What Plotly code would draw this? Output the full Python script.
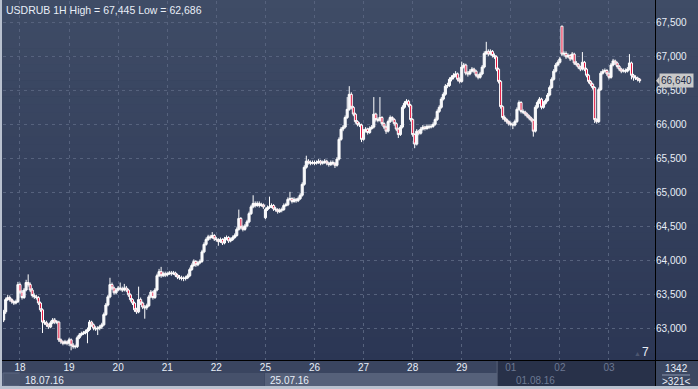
import plotly.graph_objects as go

# ---------------- data (USDRUB, 1H bars, 15.07.16 16:00 .. 03.08.16 15:00) ----------------
day_labels = ["18", "19", "20", "21", "22", "25", "26", "27", "28", "29", "01", "02", "03"]
week_labels = ["18.07.16", "25.07.16", "01.08.16"]
day_first_bar = [8, 32, 56, 80, 104, 128, 152, 176, 200, 224, 248, 272, 296]
week_first_bar = [8, 128, 248]

opens = [
    63.13, 63.25, 63.43, 63.46, 63.43, 63.40, 63.38, 63.40,
    63.65, 63.54, 63.46, 63.57, 63.68, 63.65, 63.57, 63.49, 63.47, 63.46, 63.38, 63.28, 63.10, 63.09, 63.06, 63.03, 63.09, 63.13, 63.10, 63.10, 62.84, 62.81, 62.79, 62.81,
    62.79, 62.84, 62.76, 62.74, 62.74, 62.87, 62.91, 62.93, 62.94, 62.96, 62.99, 63.10, 63.06, 63.01, 63.00, 63.01, 63.03, 63.06, 63.21, 63.35, 63.47, 63.65, 63.60, 63.53,
    63.57, 63.60, 63.59, 63.57, 63.60, 63.57, 63.50, 63.43, 63.38, 63.28, 63.25, 63.43, 63.38, 63.32, 63.31, 63.34, 63.47, 63.54, 63.46, 63.57, 63.78, 63.84, 63.78, 63.81,
    63.79, 63.81, 63.82, 63.81, 63.82, 63.79, 63.76, 63.75, 63.74, 63.74, 63.75, 63.78, 63.87, 63.93, 63.99, 63.94, 63.97, 63.99, 64.13, 64.24, 64.31, 64.35, 64.34, 64.37,
    64.32, 64.31, 64.28, 64.31, 64.26, 64.32, 64.34, 64.29, 64.31, 64.34, 64.37, 64.46, 64.62, 64.49, 64.46, 64.51, 64.57, 64.69, 64.79, 64.84, 64.81, 64.84, 64.81, 64.82,
    64.63, 64.75, 64.78, 64.79, 64.81, 64.76, 64.75, 64.72, 64.74, 64.75, 64.81, 64.82, 64.90, 64.91, 64.87, 64.90, 64.88, 64.91, 64.96, 65.12, 65.37, 65.46, 65.44, 65.43,
    65.44, 65.43, 65.44, 65.46, 65.43, 65.44, 65.46, 65.43, 65.41, 65.44, 65.43, 65.40, 65.49, 65.78, 65.93, 65.96, 66.10, 66.22, 66.44, 66.25, 66.15, 66.04, 66.00, 65.99,
    65.78, 65.90, 65.93, 65.88, 65.94, 65.96, 66.15, 66.07, 66.06, 66.10, 66.01, 65.96, 65.90, 66.04, 66.10, 66.07, 66.01, 65.93, 65.85, 65.96, 66.25, 66.31, 66.34, 66.28,
    66.07, 65.85, 65.71, 65.90, 65.87, 65.93, 65.96, 65.94, 65.97, 65.96, 65.97, 66.00, 66.07, 66.19, 66.25, 66.37, 66.44, 66.56, 66.57, 66.66, 66.69, 66.72, 66.74, 66.66,
    66.63, 66.84, 66.87, 66.75, 66.74, 66.78, 66.81, 66.78, 66.72, 66.69, 66.74, 66.84, 67.04, 67.07, 67.03, 67.07, 67.01, 66.99, 66.81, 66.63, 66.26, 66.10, 66.07, 66.04,
    66.01, 66.00, 65.99, 66.04, 66.22, 66.32, 66.19, 66.18, 66.15, 66.12, 66.09, 66.06, 65.90, 66.25, 66.32, 66.37, 66.25, 66.31, 66.35, 66.43, 66.54, 66.66, 66.78, 66.87,
    66.91, 67.44, 67.03, 67.04, 66.99, 67.01, 66.96, 67.03, 66.90, 66.88, 66.84, 66.81, 66.91, 66.81, 66.72, 66.63, 66.59, 66.54, 66.07, 66.04, 66.51, 66.75, 66.78, 66.79,
    66.74, 66.69, 66.87, 66.93, 66.90, 66.85, 66.81, 66.78, 66.79, 66.78, 66.81, 66.90, 66.72, 66.69, 66.68, 66.66,
]
highs = [
    63.28, 63.46, 63.50, 63.49, 63.45, 63.42, 63.43, 63.69,
    63.68, 63.57, 63.60, 63.72, 63.80, 63.68, 63.60, 63.52, 63.50, 63.48, 63.40, 63.30, 63.13, 63.12, 63.08, 63.12, 63.16, 63.16, 63.13, 63.12, 62.86, 62.83, 62.84, 62.83,
    62.87, 62.86, 62.79, 62.77, 62.90, 62.94, 62.96, 62.97, 62.99, 63.02, 63.13, 63.12, 63.08, 63.04, 63.04, 63.06, 63.09, 63.24, 63.38, 63.50, 63.75, 63.68, 63.62, 63.60,
    63.63, 63.68, 63.62, 63.66, 63.63, 63.59, 63.52, 63.45, 63.40, 63.31, 63.62, 63.46, 63.40, 63.35, 63.37, 63.50, 63.57, 63.56, 63.60, 63.81, 63.88, 63.91, 63.84, 63.84,
    63.84, 63.85, 63.85, 63.85, 63.84, 63.81, 63.79, 63.78, 63.77, 63.78, 63.81, 63.90, 63.96, 64.02, 64.01, 64.00, 64.02, 64.16, 64.27, 64.34, 64.38, 64.38, 64.42, 64.39,
    64.35, 64.33, 64.34, 64.33, 64.35, 64.37, 64.36, 64.34, 64.37, 64.40, 64.49, 64.75, 64.64, 64.52, 64.54, 64.60, 64.72, 64.82, 64.96, 64.87, 64.87, 64.87, 64.85, 64.84,
    64.78, 64.81, 64.94, 64.84, 64.83, 64.79, 64.77, 64.77, 64.78, 64.84, 64.85, 64.93, 65.01, 64.93, 64.93, 64.92, 64.94, 64.99, 65.15, 65.40, 65.54, 65.49, 65.47, 65.47,
    65.47, 65.47, 65.49, 65.48, 65.47, 65.49, 65.48, 65.45, 65.47, 65.47, 65.45, 65.52, 65.81, 65.96, 65.99, 66.13, 66.40, 66.56, 66.47, 66.27, 66.17, 66.06, 66.03, 66.01,
    65.93, 65.96, 65.95, 65.97, 65.99, 66.40, 66.17, 66.10, 66.40, 66.12, 66.03, 65.98, 66.07, 66.13, 66.12, 66.09, 66.03, 65.95, 65.99, 66.28, 66.34, 66.37, 66.36, 66.30,
    66.09, 65.87, 65.93, 65.92, 65.96, 65.99, 65.98, 66.00, 66.00, 66.00, 66.03, 66.10, 66.22, 66.28, 66.40, 66.47, 66.59, 66.61, 66.69, 66.72, 66.75, 66.78, 66.76, 66.69,
    66.92, 66.90, 66.89, 66.78, 66.81, 66.84, 66.83, 66.80, 66.74, 66.77, 66.87, 67.07, 67.21, 67.10, 67.10, 67.09, 67.04, 67.01, 66.83, 66.65, 66.28, 66.13, 66.09, 66.06,
    66.04, 66.03, 66.07, 66.25, 66.35, 66.34, 66.22, 66.20, 66.17, 66.14, 66.11, 66.08, 66.28, 66.35, 66.40, 66.39, 66.34, 66.38, 66.46, 66.57, 66.69, 66.81, 66.90, 66.94,
    66.99, 67.445, 67.07, 67.07, 67.04, 67.03, 67.06, 67.05, 66.93, 66.90, 66.86, 67.06, 66.93, 66.83, 66.74, 66.65, 66.61, 66.56, 66.09, 66.54, 66.78, 66.81, 66.82, 66.81,
    66.76, 66.90, 66.96, 66.95, 66.92, 66.87, 66.83, 66.82, 66.82, 66.84, 67.03, 66.92, 66.74, 66.72, 66.70, 66.68,
]
lows = [
    63.10, 63.22, 63.41, 63.40, 63.37, 63.35, 63.36, 63.38,
    63.51, 63.43, 63.44, 63.55, 63.62, 63.54, 63.46, 63.44, 63.43, 63.35, 63.25, 62.94, 63.06, 63.03, 63.00, 63.01, 63.07, 63.07, 63.07, 62.81, 62.78, 62.76, 62.77, 62.76,
    62.75, 62.686, 62.71, 62.71, 62.72, 62.85, 62.89, 62.91, 62.92, 62.79, 62.97, 63.03, 62.98, 62.97, 62.91, 62.98, 63.00, 63.04, 63.19, 63.33, 63.45, 63.57, 63.50, 63.51,
    63.55, 63.56, 63.54, 63.55, 63.54, 63.47, 63.40, 63.35, 63.25, 63.22, 63.23, 63.35, 63.29, 63.15, 63.28, 63.32, 63.45, 63.43, 63.44, 63.55, 63.76, 63.75, 63.76, 63.76,
    63.77, 63.79, 63.78, 63.79, 63.76, 63.73, 63.72, 63.71, 63.70, 63.71, 63.73, 63.76, 63.85, 63.91, 63.91, 63.92, 63.95, 63.97, 64.11, 64.22, 64.29, 64.31, 64.32, 64.29,
    64.28, 64.22, 64.26, 64.23, 64.24, 64.30, 64.26, 64.27, 64.29, 64.32, 64.35, 64.44, 64.46, 64.43, 64.44, 64.49, 64.55, 64.67, 64.77, 64.78, 64.79, 64.78, 64.79, 64.76,
    64.61, 64.73, 64.76, 64.77, 64.73, 64.72, 64.69, 64.70, 64.71, 64.73, 64.79, 64.80, 64.88, 64.84, 64.85, 64.85, 64.86, 64.89, 64.94, 65.10, 65.35, 65.41, 65.40, 65.41,
    65.40, 65.41, 65.42, 65.40, 65.41, 65.42, 65.40, 65.38, 65.39, 65.40, 65.36, 65.38, 65.47, 65.76, 65.90, 65.94, 66.08, 66.20, 66.22, 66.12, 66.01, 65.97, 65.96, 65.74,
    65.76, 65.88, 65.85, 65.86, 65.92, 65.94, 66.04, 66.03, 66.04, 65.98, 65.93, 65.86, 65.88, 66.02, 66.04, 65.98, 65.90, 65.80, 65.83, 65.94, 66.23, 66.29, 66.25, 66.04,
    65.82, 65.65, 65.69, 65.84, 65.85, 65.91, 65.91, 65.92, 65.93, 65.94, 65.95, 65.98, 66.05, 66.17, 66.23, 66.35, 66.42, 66.53, 66.55, 66.63, 66.66, 66.69, 66.63, 66.60,
    66.61, 66.82, 66.72, 66.70, 66.72, 66.76, 66.75, 66.69, 66.66, 66.67, 66.72, 66.82, 67.02, 67.00, 67.01, 66.98, 66.96, 66.78, 66.60, 66.23, 66.07, 66.04, 66.01, 65.98,
    65.97, 65.93, 65.97, 66.02, 66.20, 66.16, 66.15, 66.12, 66.09, 66.06, 66.03, 65.82, 65.88, 66.23, 66.30, 66.22, 66.23, 66.29, 66.33, 66.41, 66.52, 66.64, 66.76, 66.85,
    66.89, 67.00, 67.00, 66.96, 66.97, 66.93, 66.94, 66.87, 66.85, 66.81, 66.78, 66.79, 66.78, 66.69, 66.60, 66.56, 66.51, 66.02, 66.01, 66.02, 66.49, 66.73, 66.76, 66.71,
    66.66, 66.67, 66.85, 66.87, 66.82, 66.78, 66.75, 66.76, 66.75, 66.76, 66.79, 66.66, 66.64, 66.65, 66.63, 66.61,
]
closes = [
    63.25, 63.43, 63.46, 63.43, 63.40, 63.38, 63.40, 63.65,
    63.54, 63.46, 63.57, 63.68, 63.65, 63.57, 63.49, 63.47, 63.46, 63.38, 63.28, 63.10, 63.09, 63.06, 63.03, 63.09, 63.13, 63.10, 63.10, 62.84, 62.81, 62.79, 62.81, 62.79,
    62.84, 62.76, 62.74, 62.74, 62.87, 62.91, 62.93, 62.94, 62.96, 62.99, 63.10, 63.06, 63.01, 63.00, 63.01, 63.03, 63.06, 63.21, 63.35, 63.47, 63.65, 63.60, 63.53, 63.57,
    63.60, 63.59, 63.57, 63.60, 63.57, 63.50, 63.43, 63.38, 63.28, 63.25, 63.43, 63.38, 63.32, 63.31, 63.34, 63.47, 63.54, 63.46, 63.57, 63.78, 63.84, 63.78, 63.81, 63.79,
    63.81, 63.82, 63.81, 63.82, 63.79, 63.76, 63.75, 63.74, 63.74, 63.75, 63.78, 63.87, 63.93, 63.99, 63.94, 63.97, 63.99, 64.13, 64.24, 64.31, 64.35, 64.34, 64.37, 64.32,
    64.31, 64.28, 64.31, 64.26, 64.32, 64.34, 64.29, 64.31, 64.34, 64.37, 64.46, 64.62, 64.49, 64.46, 64.51, 64.57, 64.69, 64.79, 64.84, 64.81, 64.84, 64.81, 64.82, 64.79,
    64.75, 64.78, 64.79, 64.81, 64.76, 64.75, 64.72, 64.74, 64.75, 64.81, 64.82, 64.90, 64.91, 64.87, 64.90, 64.88, 64.91, 64.96, 65.12, 65.37, 65.46, 65.44, 65.43, 65.44,
    65.43, 65.44, 65.46, 65.43, 65.44, 65.46, 65.43, 65.41, 65.44, 65.43, 65.40, 65.49, 65.78, 65.93, 65.96, 66.10, 66.22, 66.44, 66.25, 66.15, 66.04, 66.00, 65.99, 65.78,
    65.90, 65.93, 65.88, 65.94, 65.96, 66.15, 66.07, 66.06, 66.10, 66.01, 65.96, 65.90, 66.04, 66.10, 66.07, 66.01, 65.93, 65.85, 65.96, 66.25, 66.31, 66.34, 66.28, 66.07,
    65.85, 65.71, 65.90, 65.87, 65.93, 65.96, 65.94, 65.97, 65.96, 65.97, 66.00, 66.07, 66.19, 66.25, 66.37, 66.44, 66.56, 66.57, 66.66, 66.69, 66.72, 66.74, 66.66, 66.63,
    66.84, 66.87, 66.75, 66.74, 66.78, 66.81, 66.78, 66.72, 66.69, 66.74, 66.84, 67.04, 67.07, 67.03, 67.07, 67.01, 66.99, 66.81, 66.63, 66.26, 66.10, 66.07, 66.04, 66.01,
    66.00, 65.99, 66.04, 66.22, 66.32, 66.19, 66.18, 66.15, 66.12, 66.09, 66.06, 65.90, 66.25, 66.32, 66.37, 66.25, 66.31, 66.35, 66.43, 66.54, 66.66, 66.78, 66.87, 66.91,
    66.96, 67.03, 67.04, 66.99, 67.01, 66.96, 67.03, 66.90, 66.88, 66.84, 66.81, 66.91, 66.81, 66.72, 66.63, 66.59, 66.54, 66.07, 66.04, 66.51, 66.75, 66.78, 66.79, 66.74,
    66.69, 66.87, 66.93, 66.90, 66.85, 66.81, 66.78, 66.79, 66.78, 66.81, 66.90, 66.72, 66.69, 66.68, 66.66, 66.64,
]
bars = list(range(len(closes)))

# ---------------- geometry helpers (layout only) ----------------
W, H = 698, 389
ML, MR, MT, MB = 3, 43, 1, 29
PW, PH = W - ML - MR, H - MT - MB


def px(x):
    return (x - ML) / PW


def py(y):
    return (H - MB - y) / PH


FONT = "Liberation Sans"
WHITE = "#e8eef7"
DIM = "#6c7892"

fig = go.Figure()
fig.add_trace(go.Candlestick(
    x=bars, open=opens, high=highs, low=lows, close=closes,
    increasing=dict(line=dict(color="#ffffff", width=1), fillcolor="#f4f6fa"),
    decreasing=dict(line=dict(color="#ffffff", width=1), fillcolor="#e5173f"),
    whiskerwidth=0, hoverinfo="skip", showlegend=False,
))

shapes = []
# vertical gradient background
top_c = (63, 76, 102)
bot_c = (43, 54, 84)
NB = 45
for k in range(NB):
    y0 = k * 361 / NB
    y1 = (k + 1) * 361 / NB + 0.6
    t = (k + 0.5) / NB
    col = "rgb(%d,%d,%d)" % tuple(round(a + (b - a) * t) for a, b in zip(top_c, bot_c))
    shapes.append(dict(type="rect", xref="paper", yref="paper", layer="below",
                       x0=px(0), x1=px(W), y0=py(y1), y1=py(y0),
                       fillcolor=col, line=dict(width=0)))

# bottom date bar
shapes.append(dict(type="rect", xref="paper", yref="paper", layer="below",
                   x0=px(0), x1=px(655), y0=py(386), y1=py(360),
                   fillcolor="#3a4560", line=dict(width=0)))
shapes.append(dict(type="rect", xref="paper", yref="paper", layer="below",
                   x0=px(3), x1=px(20), y0=py(386), y1=py(373),
                   fillcolor="#4a556e", line=dict(color="#5d6882", width=1)))
shapes.append(dict(type="rect", xref="x", yref="paper", layer="below",
                   x0=week_first_bar[0] - 0.3, x1=week_first_bar[1] - 0.6, y0=py(386), y1=py(373),
                   fillcolor="#46516b", line=dict(width=0)))
shapes.append(dict(type="rect", xref="x", yref="paper", layer="below",
                   x0=week_first_bar[1] - 0.3, x1=241.3, y0=py(386), y1=py(373),
                   fillcolor="#56617a", line=dict(width=0)))
shapes.append(dict(type="rect", xref="x", yref="paper", layer="below",
                   x0=241.3, x1=318.5, y0=py(386), y1=py(360.5),
                   fillcolor="#283149", line=dict(width=0)))
shapes.append(dict(type="line", xref="x", yref="paper", layer="above",
                   x0=241.3, x1=241.3, y0=py(386), y1=py(361),
                   line=dict(color="#59627a", width=1)))
# right bottom corner panel
shapes.append(dict(type="rect", xref="paper", yref="paper", layer="below",
                   x0=px(655), x1=px(W), y0=py(386), y1=py(360),
                   fillcolor="#3b4761", line=dict(width=0)))
shapes.append(dict(type="line", xref="paper", yref="paper",
                   x0=px(662), x1=px(690), y0=py(375), y1=py(375),
                   line=dict(color="#8c98b0", width=1)))
# black separator lines
shapes.append(dict(type="line", xref="paper", yref="paper",
                   x0=px(0), x1=px(W), y0=py(360.5), y1=py(360.5),
                   line=dict(color="#000000", width=1)))
shapes.append(dict(type="line", xref="paper", yref="paper",
                   x0=px(655.5), x1=px(655.5), y0=py(386), y1=py(0),
                   line=dict(color="#000000", width=1)))
# light outer frame
shapes.append(dict(type="rect", xref="paper", yref="paper",
                   x0=px(0), x1=px(W), y0=py(389), y1=py(386),
                   fillcolor="#b9c1cf", line=dict(width=0)))
shapes.append(dict(type="rect", xref="paper", yref="paper",
                   x0=px(0), x1=px(2), y0=py(389), y1=py(0),
                   fillcolor="#b9c1cf", line=dict(width=0)))
# last price tag arrow
shapes.append(dict(type="path", xref="paper", yref="y",
                   path="M %f,%f L %f,%f L %f,%f Z" % (px(656), closes[-1], px(659.5), closes[-1] + 0.06,
                                                      px(659.5), closes[-1] - 0.06),
                   fillcolor="#c9c9c9", line=dict(width=0)))

annotations = [
    dict(text="USDRUB 1H High = 67,445 Low = 62,686", xref="paper", yref="paper",
         x=px(4), y=py(2), xanchor="left", yanchor="top", showarrow=False,
         font=dict(family=FONT, size=10.5, color=WHITE)),
    dict(text="%s" % f"{closes[-1]:.3f}".replace(".", ","), xref="paper", yref="y",
         x=px(659), y=closes[-1], xanchor="left", yanchor="middle", showarrow=False,
         bgcolor="#c9c9c9", borderpad=1, font=dict(family=FONT, size=10, color="#1d2a45")),
    dict(text="▲", xref="paper", yref="paper", x=px(637), y=py(353), showarrow=False,
         xanchor="center", yanchor="middle", font=dict(family=FONT, size=7, color="#4c5670")),
    dict(text="7", xref="paper", yref="paper", x=px(645), y=py(352), showarrow=False,
         xanchor="center", yanchor="middle", font=dict(family=FONT, size=12, color=WHITE)),
    dict(text="1342", xref="paper", yref="paper", x=px(676), y=py(368), showarrow=False,
         xanchor="center", yanchor="middle", font=dict(family=FONT, size=10, color=WHITE)),
    dict(text="&gt;321&lt;", xref="paper", yref="paper", x=px(676), y=py(381), showarrow=False,
         xanchor="center", yanchor="middle", font=dict(family=FONT, size=10, color=WHITE)),
]
for k, (lbl, b) in enumerate(zip(week_labels, week_first_bar)):
    annotations.append(dict(text=lbl, xref="x", yref="paper", x=b + 1.5, y=py(380),
                            xanchor="left", yanchor="middle", showarrow=False,
                            font=dict(family=FONT, size=10, color=DIM if k == 2 else WHITE)))

tick_text = [("<span style='color:%s'>%s</span>" % (DIM, d)) if b >= 248 else d
             for d, b in zip(day_labels, day_first_bar)]

fig.update_layout(
    width=W, height=H,
    margin=dict(l=ML, r=MR, t=MT, b=MB),
    paper_bgcolor="#2c3754", plot_bgcolor="rgba(0,0,0,0)",
    separators=",.",
    showlegend=False,
    boxgap=0, boxgroupgap=0,
    hovermode=False,
    shapes=shapes, annotations=annotations,
    font=dict(family=FONT, size=10, color=WHITE),
    xaxis=dict(range=[-0.31, 318.5], tickmode="array", tickvals=day_first_bar, ticktext=tick_text,
               showgrid=True, gridcolor="#56627d", griddash="3px,4px", gridwidth=1,
               zeroline=False, showline=False, ticks="", ticklen=0,
               tickfont=dict(family=FONT, size=10, color=WHITE),
               rangeslider=dict(visible=False), fixedrange=True),
    yaxis=dict(side="right", range=[62.544, 67.809], tick0=63.0, dtick=0.5, tickformat=".3f",
               showgrid=True, gridcolor="#56627d", griddash="3px,4px", gridwidth=1,
               zeroline=False, showline=False, ticks="",
               tickfont=dict(family=FONT, size=10, color=WHITE), fixedrange=True),
)

fig.write_html("out.html", config={"displayModeBar": False, "staticPlot": True},
               post_script="document.body.style.margin='0';document.body.style.overflow='hidden';")
